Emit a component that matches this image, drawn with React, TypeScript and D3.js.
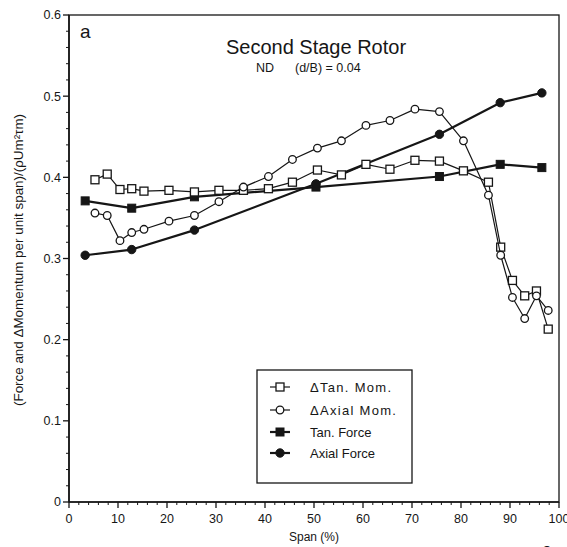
import React from "react";
import * as d3 from "d3";

const spanMom = [5.3, 7.8, 10.4, 12.8, 15.3, 20.4, 25.6, 30.6, 35.6, 40.7, 45.6, 50.7, 55.6, 60.6, 65.5, 70.6, 75.6, 80.5, 85.6, 88.1, 90.5, 93.0, 95.4, 97.8];
const tanMom = [0.397, 0.404, 0.385, 0.386, 0.383, 0.384, 0.382, 0.384, 0.384, 0.386, 0.394, 0.409, 0.403, 0.416, 0.410, 0.421, 0.420, 0.408, 0.394, 0.314, 0.273, 0.254, 0.260, 0.213];
const axialMom = [0.356, 0.353, 0.322, 0.332, 0.336, 0.346, 0.353, 0.370, 0.388, 0.401, 0.422, 0.436, 0.445, 0.464, 0.470, 0.484, 0.481, 0.445, 0.378, 0.304, 0.252, 0.226, 0.254, 0.236];
const spanForce = [3.3, 12.8, 25.6, 50.4, 75.6, 88.0, 96.5];
const tanForce = [0.371, 0.362, 0.376, 0.388, 0.401, 0.416, 0.412];
const axialForce = [0.304, 0.311, 0.335, 0.392, 0.453, 0.492, 0.504];

const xTicks = [0, 10, 20, 30, 40, 50, 60, 70, 80, 90, 100];
const yTicks = [0, 0.1, 0.2, 0.3, 0.4, 0.5, 0.6];
const legendLabels = ["\u0394Tan. Mom.", "\u0394Axial Mom.", "Tan. Force", "Axial Force"];

const INK = "#161616";
const FONT = "'Liberation Sans', Arial, Helvetica, sans-serif";

type Kind = "osq" | "ocir" | "fsq" | "fcir";

function Marker({ kind, cx, cy }: { kind: Kind; cx: number; cy: number }) {
  if (kind === "osq") return <rect x={cx - 4} y={cy - 4} width={8} height={8} fill="#fff" stroke={INK} strokeWidth={1.3} />;
  if (kind === "fsq") return <rect x={cx - 4} y={cy - 4} width={8} height={8} fill={INK} stroke={INK} strokeWidth={1} />;
  if (kind === "ocir") return <circle cx={cx} cy={cy} r={3.8} fill="#fff" stroke={INK} strokeWidth={1.3} />;
  return <circle cx={cx} cy={cy} r={4.2} fill={INK} stroke={INK} strokeWidth={1} />;
}

export default function App() {
  const x = d3.scaleLinear().domain([0, 100]).range([69, 559]);
  const y = d3.scaleLinear().domain([0, 0.6]).range([502, 15]);
  const line = d3.line<[number, number]>().x((d) => x(d[0])).y((d) => y(d[1]));

  const series: { xs: number[]; ys: number[]; kind: Kind; w: number }[] = [
    { xs: spanForce, ys: tanForce, kind: "fsq", w: 2.2 },
    { xs: spanForce, ys: axialForce, kind: "fcir", w: 2.2 },
    { xs: spanMom, ys: tanMom, kind: "osq", w: 1.2 },
    { xs: spanMom, ys: axialMom, kind: "ocir", w: 1.2 },
  ];

  const xMinor = d3.range(0, 101, 2).filter((v) => v % 10 !== 0);
  const yMinor = d3.range(0, 0.601, 0.02).filter((v) => Math.abs(v * 10 - Math.round(v * 10)) > 1e-6);

  const legendKinds: Kind[] = ["osq", "ocir", "fsq", "fcir"];
  const legendY = [387, 410, 432, 453];

  return (
    <svg width={567} height={547} style={{ position: "fixed", left: 0, top: 0, background: "#fff" }} fontFamily={FONT}>
      <rect x={0} y={0} width={567} height={547} fill="#fff" />
      {/* frame */}
      <rect x={x(0)} y={y(0.6)} width={x(100) - x(0)} height={y(0) - y(0.6)} fill="none" stroke={INK} strokeWidth={1.3} />
      <line x1={x(0)} x2={x(0)} y1={y(0.6)} y2={y(0)} stroke={INK} strokeWidth={1.6} />
      <line x1={x(0)} x2={x(100)} y1={y(0)} y2={y(0)} stroke={INK} strokeWidth={1.6} />
      {/* y ticks */}
      {yTicks.map((t) => (
        <g key={"yt" + t}>
          <line x1={x(0) - 6} x2={x(0)} y1={y(t)} y2={y(t)} stroke={INK} strokeWidth={1.3} />
          <text x={x(0) - 8} y={y(t)} dy="0.35em" textAnchor="end" fontSize={12.5} fill={INK}>
            {t === 0 ? "0" : t.toFixed(1)}
          </text>
        </g>
      ))}
      {yMinor.map((t) => (
        <line key={"ym" + t} x1={x(0) - 3} x2={x(0)} y1={y(t)} y2={y(t)} stroke={INK} strokeWidth={1} />
      ))}
      {/* x ticks */}
      {xTicks.map((t) => (
        <g key={"xt" + t}>
          <line x1={x(t)} x2={x(t)} y1={y(0)} y2={y(0) + 6} stroke={INK} strokeWidth={1.3} />
          <text x={x(t)} y={523} textAnchor="middle" fontSize={12.5} fill={INK}>
            {t}
          </text>
        </g>
      ))}
      {xMinor.map((t) => (
        <line key={"xm" + t} x1={x(t)} x2={x(t)} y1={y(0)} y2={y(0) + 3} stroke={INK} strokeWidth={1} />
      ))}
      {/* axis titles */}
      <text x={x(50)} y={541} textAnchor="middle" fontSize={12} fill={INK}>Span (%)</text>
      <text
        transform="translate(19,260) rotate(-90)"
        textAnchor="middle"
        dy="0.35em"
        fontSize={12}
        textLength={292}
        lengthAdjust="spacingAndGlyphs"
        fill={INK}
      >
        (Force and ΔMomentum per unit span)/(ρUm²τm)
      </text>
      {/* titles */}
      <text x={80} y={38} fontSize={19} fill={INK}>a</text>
      <text x={316} y={54} textAnchor="middle" fontSize={20} fill={INK}>Second Stage Rotor</text>
      <text x={256} y={72} fontSize={12.5} fill={INK}>ND</text>
      <text x={295} y={72} fontSize={12.5} fill={INK}>(d/B) = 0.04</text>
      <text x={547} y={558} textAnchor="middle" fontSize={17} fill={INK}>9</text>
      {/* series */}
      {series.map((s, i) => {
        const pts: [number, number][] = s.xs.map((v, j) => [v, s.ys[j]]);
        return (
          <g key={"s" + i}>
            <path d={line(pts) || ""} fill="none" stroke={INK} strokeWidth={s.w} strokeLinejoin="round" />
            {pts.map((p, j) => (
              <Marker key={j} kind={s.kind} cx={x(p[0])} cy={y(p[1])} />
            ))}
          </g>
        );
      })}
      {/* legend */}
      <rect x={257} y={370} width={155} height={113} fill="#fff" stroke={INK} strokeWidth={1.3} />
      {legendLabels.map((lab, i) => {
        const ly = legendY[i];
        const heavy = i >= 2;
        return (
          <g key={"lg" + i}>
            <line x1={270} x2={290} y1={ly} y2={ly} stroke={INK} strokeWidth={heavy ? 2.2 : 1.2} />
            <Marker kind={legendKinds[i]} cx={280} cy={ly} />
            <text x={310} y={ly} dy="0.35em" fontSize={13} letterSpacing={heavy ? 0 : 1.3} fill={INK}>
              {lab}
            </text>
          </g>
        );
      })}
    </svg>
  );
}
